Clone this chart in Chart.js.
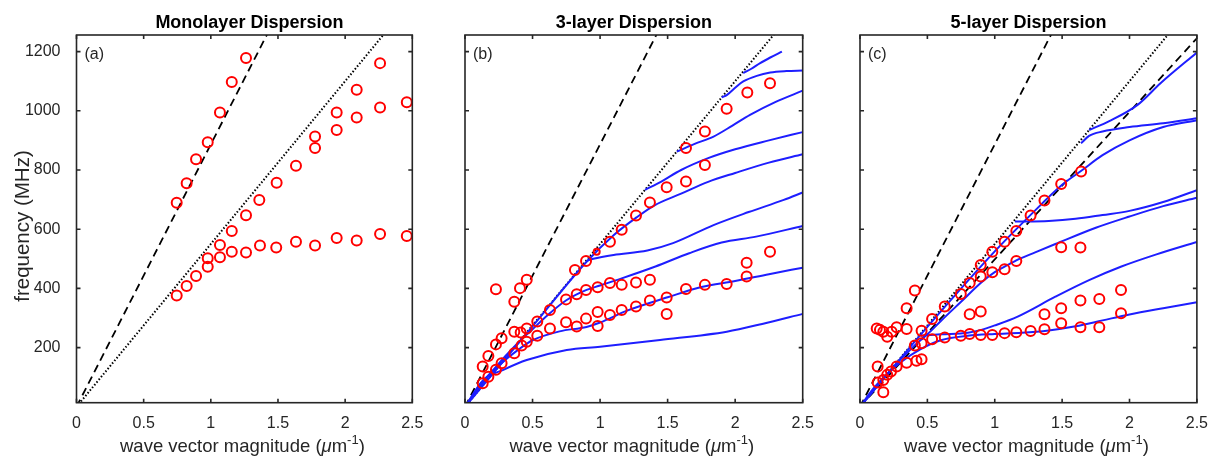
<!DOCTYPE html>
<html>
<head>
<meta charset="utf-8">
<script src="https://cdn.jsdelivr.net/npm/chart.js@4.4.1/dist/chart.umd.min.js"></script>
<style>
  html, body { margin: 0; padding: 0; background: #fff; }
  #wrap { position: relative; width: 1211px; height: 466px; overflow: hidden; }
  #wrap canvas { position: absolute; left: 0; top: 0; }
</style>
</head>
<body>
<div id="wrap">
  <canvas id="panelA" width="1211" height="466"></canvas>
  <canvas id="panelB" width="1211" height="466"></canvas>
  <canvas id="panelC" width="1211" height="466"></canvas>
</div>
<script>
// ---------- axis ticks and texts ----------
const xTicks = [0, 0.5, 1, 1.5, 2, 2.5];
const xTickLabels = ['0', '0.5', '1', '1.5', '2', '2.5'];
const yTicks = [200, 400, 600, 800, 1000, 1200];
const yTickLabels = ['200', '400', '600', '800', '1000', '1200'];
const panelTitles = ['Monolayer Dispersion', '3-layer Dispersion', '5-layer Dispersion'];
const panelTags = ['(a)', '(b)', '(c)'];
const xLabelParts = ['wave vector magnitude (', 'μ', 'm', '-1', ')'];
const yLabel = 'frequency (MHz)';

// ---------- reference sound lines through the origin (k, f) ----------
const fastLine = [[0, 0], [1.5, 1330]];      // dashed
const slowLine = [[0, 0], [2.5, 1375]];      // dotted
const lowerDashed = [[0, 0], [2.5, 1245]];   // dashed, 5-layer only

// ---------- monolayer measurements ----------
const monoPoints = [
  [0.746, 689], [0.820, 755], [0.890, 836], [0.977, 894], [1.068, 994], [1.156, 1097], [1.262, 1178],
  [0.746, 376], [0.820, 408], [0.890, 442], [0.977, 473], [0.977, 502], [1.068, 505], [1.068, 547],
  [1.156, 524], [1.156, 594], [1.262, 521], [1.262, 647], [1.366, 545], [1.361, 699], [1.487, 538],
  [1.490, 757], [1.634, 558], [1.634, 814], [1.776, 545], [1.776, 874], [1.776, 913], [1.937, 570],
  [1.937, 935], [1.937, 994], [2.086, 562], [2.086, 977], [2.086, 1071], [2.260, 584], [2.260, 1011],
  [2.260, 1161], [2.459, 577], [2.459, 1029]
];

// ---------- 3-layer measurements ----------
const triPoints = [
  [2.258, 1093], [2.090, 1062], [1.937, 1007], [1.776, 930], [1.636, 874], [1.776, 817], [1.636, 761],
  [1.493, 742], [1.369, 690], [1.266, 646], [1.160, 598], [1.073, 558], [0.896, 493], [0.814, 462],
  [0.229, 397], [0.407, 401], [0.457, 429], [0.365, 355],
  [0.629, 327], [0.748, 363], [0.827, 380], [0.896, 395], [0.982, 404], [1.073, 418], [1.160, 412],
  [1.266, 420], [1.369, 429],
  [0.535, 288], [0.629, 265], [0.748, 286], [0.827, 271], [0.896, 298], [0.982, 320], [0.982, 273],
  [1.073, 310], [1.160, 327], [1.266, 339], [1.369, 359], [1.493, 369], [1.493, 314], [1.636, 398],
  [1.776, 412], [1.937, 415], [2.085, 487], [2.085, 440], [2.258, 524],
  [0.365, 254], [0.412, 251], [0.457, 265], [0.271, 232], [0.229, 211], [0.173, 172], [0.131, 136],
  [0.419, 207], [0.457, 220], [0.535, 240], [0.365, 181], [0.271, 147], [0.229, 125], [0.173, 102],
  [0.131, 80]
];
const triSmallPoints = [[0.975, 524]];

// ---------- 3-layer computed branches ----------
const triBranch1 = [[2.06, 1127], [2.12, 1142], [2.185, 1161], [2.26, 1180], [2.346, 1200]];
const triBranch2 = [[1.90, 1045], [1.94, 1054], [2.00, 1078], [2.06, 1099], [2.16, 1118], [2.26, 1129], [2.38, 1134], [2.5, 1136]];
const triBranch3 = [[1.568, 862], [1.70, 888], [1.84, 913], [1.98, 950], [2.11, 986], [2.30, 1030], [2.5, 1068]];
const triBranch4 = [[1.333, 733], [1.45, 760], [1.60, 800], [1.80, 840], [2.00, 870], [2.25, 900], [2.5, 928]];
const triBranch5 = [[0, 0], [0.5, 272], [0.9, 490], [1.1, 580], [1.27, 640], [1.40, 680], [1.60, 720], [1.80, 760], [2.00, 790], [2.25, 825], [2.5, 853]];
const triBranch6 = [[0.90, 493], [0.95, 500], [1.10, 513], [1.35, 528], [1.54, 553], [1.84, 614], [2.10, 658], [2.36, 699], [2.5, 724]];
const triBranch7 = [[0, 0], [0.2, 120], [0.4, 220], [0.5, 262], [0.6, 305], [0.75, 360], [0.9, 395], [1.0, 410], [1.16, 434], [1.41, 474], [1.66, 519], [1.9, 555], [2.155, 575], [2.5, 611]];
const triBranch8 = [[0, 0], [0.13, 85], [0.25, 140], [0.4, 195], [0.5, 225], [0.7, 255], [0.9, 270], [1.0, 285], [1.2, 325], [1.5, 370], [1.75, 405], [2.0, 425], [2.25, 448], [2.5, 470]];
const triBranch9 = [[0, 0], [0.136, 91], [0.284, 125], [0.457, 158], [0.753, 192], [1.0, 203], [1.444, 226], [1.938, 254], [2.2, 280], [2.5, 314]];

// ---------- 5-layer measurements ----------
const pentaPoints = [
  [1.641, 795], [1.493, 753], [1.369, 697], [1.266, 646], [1.160, 594], [1.073, 558], [0.982, 524],
  [0.896, 479], [0.896, 440], [0.814, 418], [0.748, 381], [0.629, 339], [0.535, 297], [0.457, 257],
  [0.407, 393], [0.346, 333], [0.346, 263], [0.272, 269], [0.235, 254], [0.202, 237], [0.173, 254],
  [0.148, 260], [0.124, 265],
  [1.493, 539], [1.636, 538], [1.160, 493], [1.073, 465], [0.982, 455],
  [1.937, 395], [1.776, 364], [1.636, 359], [1.493, 333], [1.369, 313], [1.937, 316], [1.493, 282],
  [1.776, 269], [1.636, 269], [1.369, 262], [1.266, 256], [1.160, 252], [1.073, 249], [0.982, 243],
  [0.896, 243], [0.814, 246], [0.814, 313], [0.896, 322], [0.748, 240], [0.629, 234], [0.535, 228],
  [0.457, 215], [0.407, 207], [0.457, 161], [0.419, 156], [0.346, 149], [0.272, 136], [0.230, 119],
  [0.202, 108], [0.131, 136], [0.131, 82], [0.173, 91], [0.173, 49]
];

// ---------- 5-layer computed branches ----------
const pentaBranch1 = [[1.70, 935], [1.85, 965], [2.06, 1020], [2.23, 1093], [2.5, 1197]];
const pentaBranch2 = [[1.64, 890], [1.70, 915], [1.80, 930], [2.00, 945], [2.25, 958], [2.5, 975]];
const pentaBranch3 = [[0, 0], [0.5, 270], [1.0, 525], [1.27, 650], [1.5, 750], [1.65, 800], [1.80, 850], [2.00, 900], [2.25, 945], [2.5, 968]];
const pentaBranch4 = [[1.15, 626], [1.40, 628], [1.60, 635], [1.80, 648], [2.00, 662], [2.25, 692], [2.5, 732]];
const pentaBranch5 = [[0, 0], [0.2, 110], [0.4, 205], [0.5, 245], [0.6, 290], [0.75, 355], [0.9, 420], [1.0, 455], [1.1, 480], [1.16, 495], [1.3, 522], [1.45, 550], [1.75, 605], [2.0, 643], [2.25, 678], [2.5, 706]];
const pentaBranch6 = [[0.45, 240], [0.6, 245], [0.8, 250], [0.9, 260], [1.0, 275], [1.17, 305], [1.45, 372], [1.7, 428], [1.94, 474], [2.2, 515], [2.5, 557]];
const pentaBranch7 = [[0, 0], [0.1, 62], [0.2, 110], [0.3, 150], [0.45, 195], [0.6, 225], [0.8, 240], [1.0, 246], [1.2, 250], [1.4, 258], [1.6, 272], [1.8, 292], [2.0, 312], [2.25, 333], [2.5, 353]];

// ---------- styling ----------
const FONT = '"Liberation Sans", Arial, Helvetica, sans-serif';
const INK = '#262626';
const RED = 'rgb(255,0,0)';
const BLUE = 'rgb(30,30,255)';
const Y_MIN = 14, Y_MAX = 1256;
const CANVAS_W = 1211, CANVAS_H = 466;
const PLOT_TOP = 35, PLOT_BOTTOM = 402.7;

const xy = arr => arr.map(([x, y]) => ({ x, y }));

function markers(arr, r) {
  return {
    data: xy(arr), showLine: false, pointStyle: 'circle',
    pointRadius: r, pointHoverRadius: r, pointBorderWidth: 2,
    pointBorderColor: RED, pointBackgroundColor: 'rgba(0,0,0,0)'
  };
}
function curve(arr) {
  return {
    data: xy(arr), showLine: true, pointRadius: 0, borderColor: BLUE, borderWidth: 2,
    cubicInterpolationMode: 'monotone', fill: false
  };
}
function guide(arr, dash, width) {
  return {
    data: xy(arr), showLine: true, pointRadius: 0, borderColor: '#000', borderWidth: width,
    borderDash: dash, fill: false, tension: 0
  };
}

// frame, inward ticks, titles and axis labels
const decor = {
  id: 'decor',
  afterDraw(chart, args, o) {
    const { ctx, chartArea: a, scales: { x, y } } = chart;
    ctx.save();
    ctx.strokeStyle = INK;
    ctx.lineWidth = 1.6;
    ctx.strokeRect(a.left, a.top, a.right - a.left, a.bottom - a.top);
    const tl = 4;
    ctx.beginPath();
    xTicks.forEach(v => {
      const p = x.getPixelForValue(v);
      ctx.moveTo(p, a.bottom); ctx.lineTo(p, a.bottom - tl);
      ctx.moveTo(p, a.top); ctx.lineTo(p, a.top + tl);
    });
    yTicks.forEach(v => {
      const p = y.getPixelForValue(v);
      ctx.moveTo(a.left, p); ctx.lineTo(a.left + tl, p);
      ctx.moveTo(a.right, p); ctx.lineTo(a.right - tl, p);
    });
    ctx.stroke();

    // panel title
    ctx.fillStyle = '#000';
    ctx.font = 'bold 18px ' + FONT;
    ctx.textAlign = 'center';
    ctx.textBaseline = 'alphabetic';
    ctx.fillText(o.title, (a.left + a.right) / 2 + (o.titleShift || 0), 28);

    // panel tag
    ctx.fillStyle = INK;
    ctx.font = '16px ' + FONT;
    ctx.textAlign = 'left';
    ctx.textBaseline = 'middle';
    ctx.fillText(o.tag, a.left + 8, 55);

    // x axis label with italic mu and superscript
    const fonts = ['18.5px ' + FONT, 'italic 18.5px ' + FONT, '18.5px ' + FONT, '13px ' + FONT, '18.5px ' + FONT];
    const rise = [0, 0, 0, -8, 0];
    let total = 0;
    const widths = xLabelParts.map((t, i) => { ctx.font = fonts[i]; const w = ctx.measureText(t).width; total += w; return w; });
    let cx = (a.left + a.right) / 2 - 2 - total / 2;
    ctx.textAlign = 'left';
    ctx.textBaseline = 'alphabetic';
    xLabelParts.forEach((t, i) => {
      ctx.font = fonts[i];
      ctx.fillText(t, cx, 452 + rise[i]);
      cx += widths[i];
    });

    // y axis label (first panel only)
    if (o.yLabel) {
      ctx.save();
      ctx.translate(29, 226);
      ctx.rotate(-Math.PI / 2);
      ctx.font = '20.5px ' + FONT;
      ctx.textAlign = 'center';
      ctx.textBaseline = 'alphabetic';
      ctx.fillText(yLabel, 0, 0);
      ctx.restore();
    }
    ctx.restore();
  }
};

function makePanel(id, left, right, datasets, idx) {
  const showY = idx === 0;
  return new Chart(document.getElementById(id), {
    type: 'scatter',
    data: { datasets },
    plugins: [decor],
    options: {
      responsive: false,
      animation: false,
      events: [],
      layout: { padding: { left: 0, right: CANVAS_W - right, top: PLOT_TOP, bottom: 0 } },
      plugins: {
        legend: { display: false },
        tooltip: { enabled: false },
        title: { display: false },
        decor: { title: panelTitles[idx], tag: panelTags[idx], yLabel: showY, titleShift: idx === 0 ? 5 : 0 }
      },
      scales: {
        x: {
          type: 'linear', min: 0, max: 2.5,
          grid: { display: false }, border: { display: false },
          afterBuildTicks: s => { s.ticks = xTicks.map(v => ({ value: v })); },
          afterFit: s => { s.height = CANVAS_H - PLOT_BOTTOM; },
          ticks: {
            autoSkip: false, maxRotation: 0, padding: 3, color: INK,
            font: { family: FONT, size: 16 },
            callback: v => xTickLabels[xTicks.indexOf(v)]
          }
        },
        y: {
          type: 'linear', min: Y_MIN, max: Y_MAX,
          grid: { display: false }, border: { display: false },
          afterBuildTicks: s => { s.ticks = yTicks.map(v => ({ value: v })); },
          afterFit: s => { s.width = left; },
          ticks: {
            display: showY, padding: 8, color: INK,
            font: { family: FONT, size: 16 },
            callback: v => yTickLabels[yTicks.indexOf(v)]
          }
        }
      }
    }
  });
}

const DASH = [8, 5];
const DOTS = [1.5, 2];

makePanel('panelA', 76.5, 412.3, [
  markers(monoPoints, 5),
  guide(fastLine, DASH, 1.8),
  guide(slowLine, DOTS, 2)
], 0);

makePanel('panelB', 465, 802.7, [
  markers(triPoints, 5),
  markers(triSmallPoints, 3),
  curve(triBranch1), curve(triBranch2), curve(triBranch3), curve(triBranch4), curve(triBranch5),
  curve(triBranch6), curve(triBranch7), curve(triBranch8), curve(triBranch9),
  guide(fastLine, DASH, 1.8),
  guide(slowLine, DOTS, 2)
], 1);

makePanel('panelC', 860, 1197.7, [
  markers(pentaPoints, 5),
  curve(pentaBranch1), curve(pentaBranch2), curve(pentaBranch3), curve(pentaBranch4),
  curve(pentaBranch5), curve(pentaBranch6), curve(pentaBranch7),
  guide(fastLine, DASH, 1.8),
  guide(slowLine, DOTS, 2),
  guide(lowerDashed, DASH, 1.8)
], 2);
</script>
</body>
</html>
